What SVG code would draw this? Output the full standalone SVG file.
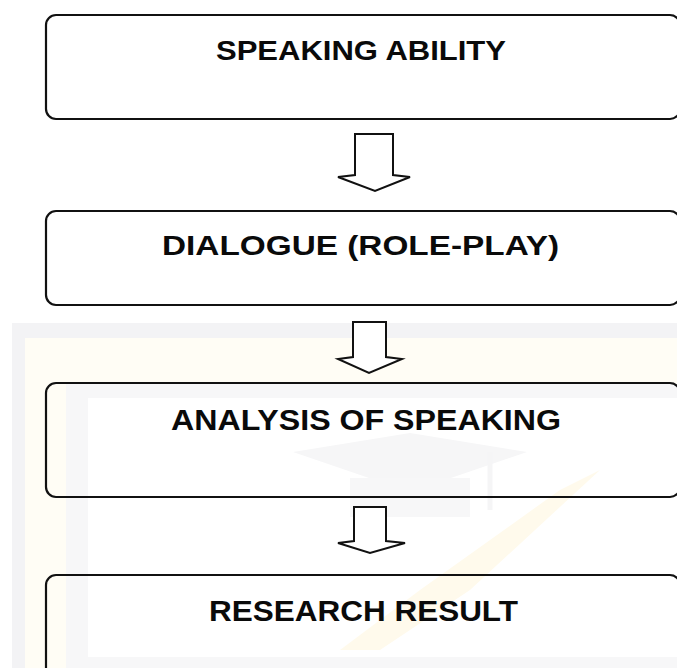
<svg xmlns="http://www.w3.org/2000/svg" width="677" height="668" viewBox="0 0 677 668">
  <style>
    .box { fill: none; stroke: #111; stroke-width: 2.2; }
    .label { font-family: "Liberation Sans", Arial, sans-serif; font-weight: bold; fill: #0a0a0a; text-anchor: start; }
    .flow { fill: #fff; stroke: #111; stroke-width: 2; stroke-linejoin: miter; }
  </style>

  <!-- page background -->
  <rect x="0" y="0" width="677" height="668" fill="#ffffff"/>

  <!-- faint background emblem in the lower half -->
  <g id="background-emblem">
    <rect x="12" y="323" width="665" height="345" fill="#f3f3f5"/>
    <rect x="25" y="338" width="652" height="330" fill="#fffdf5"/>
    <rect x="66" y="384" width="611" height="284" fill="#f7f7f8"/>
    <rect x="88" y="398" width="589" height="259" fill="#ffffff"/>
    <!-- mortarboard -->
    <polygon points="293,452 410,433 527,452 410,492" fill="#f6f6f7"/>
    <polygon points="350,478 470,478 470,517 350,517" fill="#f7f7f8"/>
    <line x1="490" y1="452" x2="490" y2="510" stroke="#f5f5f6" stroke-width="5"/>
    <!-- swoosh -->
    <polygon points="340,650 420,590 560,490 600,470 470,590 380,650" fill="#fffaec"/>
  </g>

  <!-- flow arrows -->
  <g id="connectors">
    <polygon class="flow" points="355,134 393,134 393,175 410,177 375,191 338,177 355,175"/>
    <polygon class="flow" points="353,322 386,322 386,357 402,359 369,373 338,359 353,357"/>
    <polygon class="flow" points="354,507 386,507 386,541 405,543 370,553 338,543 354,541"/>
  </g>

  <g id="node-speaking-ability">
    <rect class="box" x="46" y="15" width="634" height="104" rx="10"/>
    <text class="label" x="216" y="60" font-size="27" textLength="290" lengthAdjust="spacingAndGlyphs">SPEAKING ABILITY</text>
  </g>

  <g id="node-dialogue">
    <rect class="box" x="46" y="211" width="634" height="94" rx="10"/>
    <text class="label" x="162" y="255" font-size="27" textLength="397" lengthAdjust="spacingAndGlyphs">DIALOGUE (ROLE-PLAY)</text>
  </g>

  <g id="node-analysis">
    <rect class="box" x="46" y="383" width="634" height="114" rx="10"/>
    <text class="label" x="171" y="430" font-size="29" textLength="390" lengthAdjust="spacingAndGlyphs">ANALYSIS OF SPEAKING</text>
  </g>

  <g id="node-result">
    <rect class="box" x="46" y="575" width="634" height="120" rx="10"/>
    <text class="label" x="209" y="621" font-size="29" textLength="309" lengthAdjust="spacingAndGlyphs">RESEARCH RESULT</text>
  </g>
</svg>
